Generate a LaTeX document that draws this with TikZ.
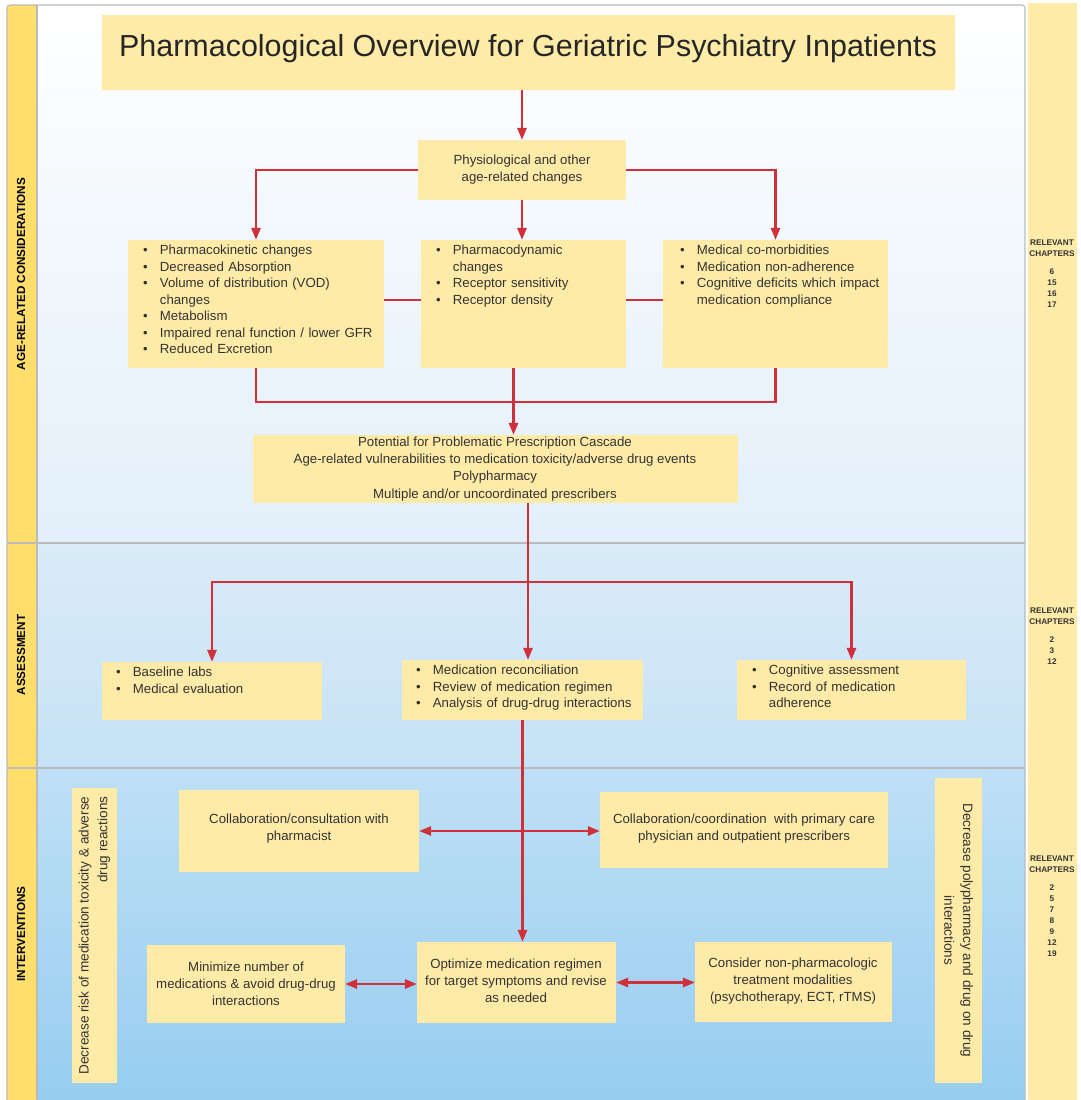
\documentclass[tikz,border=0pt]{standalone}
\usepackage{fontspec}
\setmainfont{Liberation Sans}
\usepackage{tikz}
\usetikzlibrary{arrows.meta}
\usetikzlibrary{calc}
\usetikzlibrary{fit}

\definecolor{boxyellow}{HTML}{FFEBA8}
\definecolor{laneyellow}{HTML}{FFDE6B}
\definecolor{linered}{HTML}{D0303A}
\definecolor{framegrey}{HTML}{BBBBBB}
\definecolor{textgrey}{HTML}{333333}

\newcommand{\bul}[1]{\noindent\hangindent=0.5cm\hangafter=1\makebox[0.5cm][l]{\textbullet}#1\par}

\begin{document}
\begin{tikzpicture}[x=0.03cm, y=-0.03cm,
        box_style/.style={fill=boxyellow, inner sep=0pt},
        text_style/.style={inner sep=0pt, text=textgrey, align=center, font=\fontsize{11.3}{14.6}\selectfont},
        list_style/.style={anchor=north west, inner sep=0pt, text width=7.5cm, text=textgrey, font=\fontsize{11.3}{14.1}\selectfont},
        lane_style/.style={rotate=90, font=\fontsize{10}{12}\selectfont\bfseries, text=black},
        chap_style/.style={align=center, font=\fontsize{7}{9.4}\selectfont\bfseries, text=textgrey},
        edge_style/.style={draw=linered, line width=1.8pt},
        arrow_style/.style={edge_style, -{Triangle[length=0.36cm, width=0.28cm]}},
        both_style/.style={edge_style, {Triangle[length=0.36cm, width=0.28cm]}-{Triangle[length=0.36cm, width=0.28cm]}}]

        \useasboundingbox (0,0) rectangle (1080,1100);
        \fill[white] (0,0) rectangle (1080,1100);

        % lanes
        \shade[top color=white, bottom color={rgb,255:red,226;green,239;blue,250}] (37,5) rectangle (1025,543);
        \shade[top color={rgb,255:red,219;green,235;blue,248}, bottom color={rgb,255:red,197;green,226;blue,246}] (37,543) rectangle (1025,768);
        \shade[top color={rgb,255:red,191;green,224;blue,246}, bottom color={rgb,255:red,151;green,205;blue,240}] (37,768) rectangle (1025,1100);
        \fill[laneyellow] (7,5) rectangle (37,1100);
        \fill[boxyellow] (1028,3) rectangle (1077,1100);
        \draw[framegrey, line width=0.9pt, rounded corners=0.1cm] (7,5) rectangle (1025,1104);
        \draw[framegrey, line width=0.9pt] (37,5) -- (37,1100);
        \draw[framegrey, line width=1.2pt] (7,543) -- (1025,543);
        \draw[framegrey, line width=1.2pt] (7,768) -- (1025,768);

        \node[lane_style] (lane1) at (21,274) {AGE-RELATED CONSIDERATIONS};
        \node[lane_style] (lane2) at (21,655) {ASSESSMENT};
        \node[lane_style] (lane3) at (21,934) {INTERVENTIONS};

        \node[chap_style] (chap1) at (1052,274) {RELEVANT\\CHAPTERS\\[0.2cm]6\\15\\16\\17};
        \node[chap_style] (chap2) at (1052,636) {RELEVANT\\CHAPTERS\\[0.2cm]2\\3\\12};
        \node[chap_style] (chap3) at (1052,906) {RELEVANT\\CHAPTERS\\[0.2cm]2\\5\\7\\8\\9\\12\\19};

        % age-related considerations
        \node[box_style, fit={(102,15) (955,90)}] (title) {};
        \node[text_style, font=\fontsize{26}{30}\selectfont, text=black!85] (title_text) at (528,49) {Pharmacological Overview for Geriatric Psychiatry Inpatients};
        \node[box_style, fit={(418,140) (626,200)}] (phys) {};
        \node[text_style] (phys_text) at (phys.center) {Physiological and other\\age-related changes};
        \node[box_style, fit={(128,240) (384,368)}] (pk) {};
        \node[box_style, fit={(421,240) (626,368)}] (pd) {};
        \node[box_style, fit={(663,240) (888,368)}] (med) {};
        \node[list_style] (pk_text) at (143,245) {\bul{Pharmacokinetic changes}\bul{Decreased Absorption}\bul{Volume of distribution (VOD)\newline changes}\bul{Metabolism}\bul{Impaired renal function / lower GFR}\bul{Reduced Excretion}};
        \node[list_style] (pd_text) at (436,245) {\bul{Pharmacodynamic\newline changes}\bul{Receptor sensitivity}\bul{Receptor density}};
        \node[list_style] (med_text) at (680,245) {\bul{Medical co-morbidities}\bul{Medication non-adherence}\bul{Cognitive deficits which impact\newline medication compliance}};
        \node[box_style, fit={(253,435) (738,503)}] (casc) {};
        \node[text_style] (casc_text) at (495,469) {Potential for Problematic Prescription Cascade\\Age-related vulnerabilities to medication toxicity/adverse drug events\\Polypharmacy\\Multiple and/or uncoordinated prescribers};

        % assessment
        \node[box_style, fit={(102,662) (322,720)}] (base) {};
        \node[box_style, fit={(402,660) (643,720)}] (recon) {};
        \node[box_style, fit={(737,660) (966,720)}] (cog) {};
        \node[list_style] (base_text) at (116,667) {\bul{Baseline labs}\bul{Medical evaluation}};
        \node[list_style] (recon_text) at (416,665) {\bul{Medication reconciliation}\bul{Review of medication regimen}\bul{Analysis of drug-drug interactions}};
        \node[list_style] (cog_text) at (752,665) {\bul{Cognitive assessment}\bul{Record of medication\newline adherence}};

        % interventions
        \node[box_style, fit={(179,790) (419,872)}] (pharm) {};
        \node[text_style] (pharm_text) at (299,829) {Collaboration/consultation with\\pharmacist};
        \node[box_style, fit={(600,792) (888,868)}] (prim) {};
        \node[text_style] (prim_text) at (744,829) {Collaboration/coordination\ \ with primary care\\physician and outpatient prescribers};
        \node[box_style, fit={(147,945) (345,1023)}] (mini) {};
        \node[text_style] (mini_text) at (mini.center) {Minimize number of\\medications \& avoid drug-drug\\interactions};
        \node[box_style, fit={(417,942) (616,1023)}] (opt) {};
        \node[text_style] (opt_text) at (516,981) {Optimize medication regimen\\for target symptoms and revise\\as needed};
        \node[box_style, fit={(695,942) (892,1022)}] (cons) {};
        \node[text_style] (cons_text) at (793,981) {Consider non-pharmacologic\\treatment modalities\\(psychotherapy, ECT, rTMS)};
        \node[box_style, fit={(72,788) (117,1083)}] (risk) {};
        \node[box_style, fit={(935,778) (982,1083)}] (poly) {};
        \node[rotate=90, align=right, text=textgrey, font=\fontsize{11.6}{16}\selectfont] (risk_text) at (risk.center) {Decrease risk of medication toxicity \& adverse\\drug reactions};
        \node[rotate=-90, align=center, text=textgrey, font=\fontsize{11.6}{16}\selectfont] (poly_text) at (poly.center) {Decrease polypharmacy and drug on drug\\interactions};

        % connectors
        \draw[arrow_style] (phys.north |- title.south) -- (phys.north);
        \draw[arrow_style] (phys.west) -| (pk.north);
        \draw[arrow_style] (phys.south) -- (phys.south |- pd.north);
        \draw[arrow_style] (phys.east) -| (med.north);
        \draw[edge_style] ([yshift=0.12cm]pk.east) -- ([yshift=0.12cm]pd.west);
        \draw[edge_style] ([yshift=0.12cm]pd.east) -- ([yshift=0.12cm]med.west);
        \draw[edge_style] (pk.south) -- ++(0,34) -| (med.south);
        \draw[arrow_style] ([xshift=-0.3cm]pd.south) -- ([xshift=-0.3cm]pd.south |- casc.north);
        \coordinate (hub) at (528,582);
        \draw[edge_style] (hub |- casc.south) -- (hub);
        \draw[arrow_style] (hub) -| (base.north);
        \draw[arrow_style] (hub) -| (cog.north);
        \draw[arrow_style] (hub) -- (hub |- recon.north);
        \draw[arrow_style] (recon.south) -- (recon.south |- opt.north);
        \draw[both_style] (pharm.east) -- (pharm.east -| prim.west);
        \draw[both_style] (mini.east) -- (mini.east -| opt.west);
        \draw[both_style] (opt.east) -- (opt.east -| cons.west);
\end{tikzpicture}
\end{document}
